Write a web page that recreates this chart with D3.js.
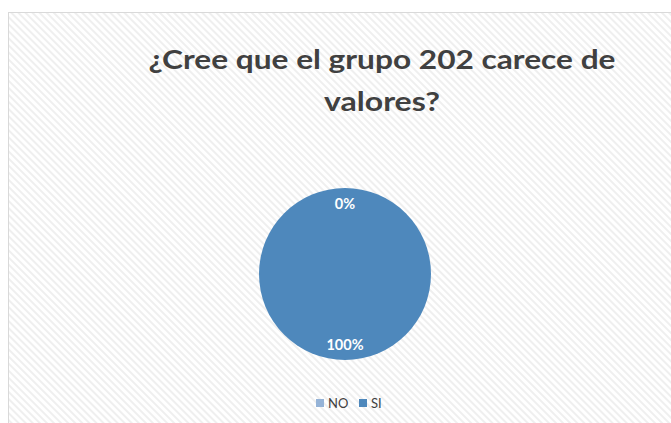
<!DOCTYPE html>
<html><head><meta charset="utf-8">
<script src="https://cdn.jsdelivr.net/npm/d3@7"></script>
<style>body{margin:0;background:#fff}svg{display:block}</style>
</head><body>
<script>
const categories = ["NO", "SI"];
const values = [0, 100];
const labels = ["0%", "100%"];
const titleLines = ["¿Cree que el grupo 202 carece de", "valores?"];
const colors = ["#95b3d7", "#4e88bc"];

const W = 671, H = 423;
const svg = d3.select("body").append("svg").attr("width", W).attr("height", H);
const defs = svg.append("defs");
const pat = defs.append("pattern").attr("id", "hatch").attr("patternUnits", "userSpaceOnUse")
  .attr("width", 5).attr("height", 5).attr("patternTransform", "rotate(45)");
pat.append("rect").attr("width", 5).attr("height", 5).attr("fill", "#ffffff");
pat.append("rect").attr("width", 5).attr("height", 2).attr("fill", "#efefef");

svg.append("rect").attr("x", 8.5).attr("y", 12.5).attr("width", W).attr("height", H)
  .attr("fill", "url(#hatch)").attr("stroke", "#d9d9d9").attr("stroke-width", 1);

// Title
const titleW = [467, 116];
const title = svg.append("g");
titleLines.forEach((t, i) => {
  title.append("text").attr("x", 382).attr("y", 69 + i * 42)
    .attr("text-anchor", "middle").attr("font-family", "Lato, 'Open Sans', sans-serif")
    .attr("font-weight", "bold").attr("font-size", 27).attr("fill", "#404040")
    .attr("textLength", titleW[i]).attr("lengthAdjust", "spacingAndGlyphs").text(t);
});

// Pie
const cx = 345, cy = 274, r = 86;
const pie = d3.pie().sort(null).value(d => d.v);
const data = pie(categories.map((c, i) => ({ c, v: values[i], l: labels[i], col: colors[i] })));
const arc = d3.arc().innerRadius(0).outerRadius(r);
const labelArc = d3.arc().innerRadius(r * 0.82).outerRadius(r * 0.82);
const g = svg.append("g").attr("transform", `translate(${cx},${cy})`);
g.selectAll("path").data(data).join("path").attr("d", arc).attr("fill", d => d.data.col);
g.selectAll("text").data(data).join("text")
  .attr("transform", d => `translate(${labelArc.centroid(d)})`)
  .attr("text-anchor", "middle").attr("dy", "0.35em")
  .attr("font-family", "Lato, 'Open Sans', sans-serif").attr("font-weight", "bold")
  .attr("font-size", 14.5).attr("fill", "#ffffff").text(d => d.data.l);

// Legend
const leg = svg.append("g").attr("transform", "translate(316,399)");
const xs = [0, 43];
categories.forEach((c, i) => {
  const li = leg.append("g").attr("transform", `translate(${xs[i]},0)`);
  li.append("rect").attr("width", 8).attr("height", 8).attr("fill", colors[i]);
  li.append("text").attr("x", 12).attr("y", 9).attr("font-family", "Lato, 'Open Sans', sans-serif")
    .attr("font-size", 13).attr("fill", "#404040").text(c);
});
</script>
</body></html>
